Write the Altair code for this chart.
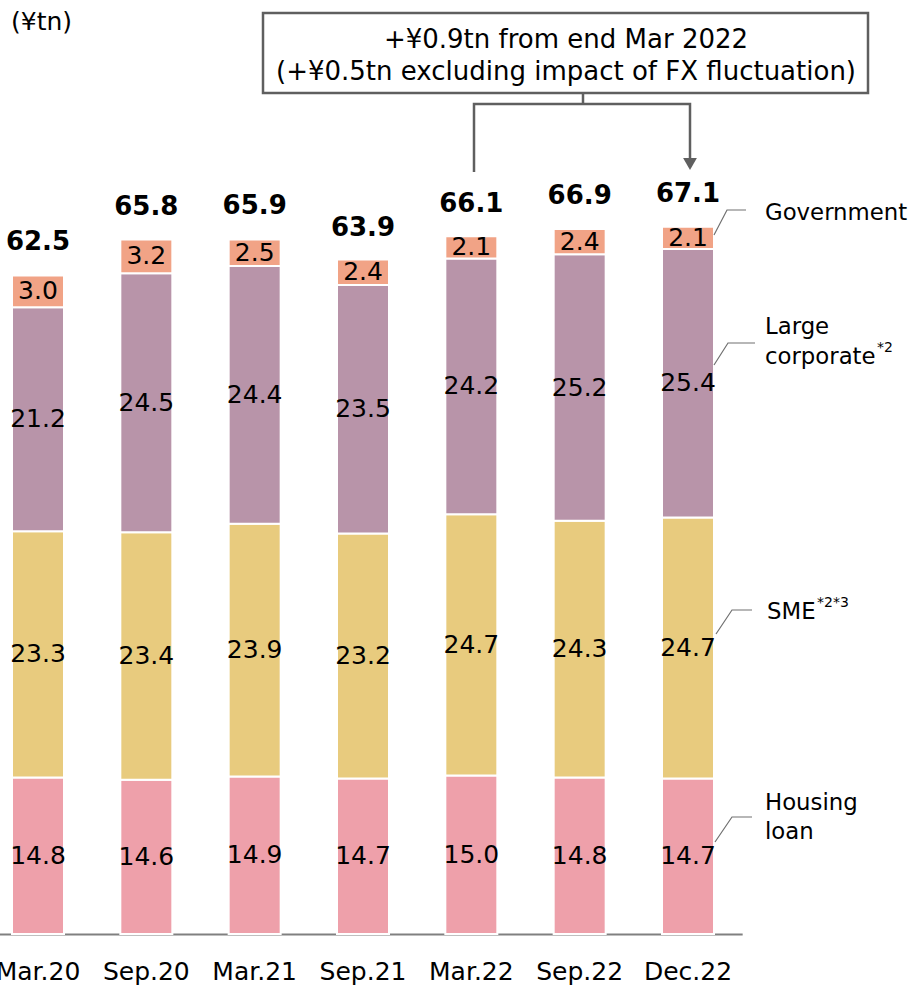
import altair as alt
import pandas as pd

# ---- data ----
periods = ["Mar.20", "Sep.20", "Mar.21", "Sep.21", "Mar.22", "Sep.22", "Dec.22"]
segments = ["Housing loan", "SME", "Large corporate", "Government"]
housing = [14.8, 14.6, 14.9, 14.7, 15.0, 14.8, 14.7]
sme = [23.3, 23.4, 23.9, 23.2, 24.7, 24.3, 24.7]
large = [21.2, 24.5, 24.4, 23.5, 24.2, 25.2, 25.4]
gov = [3.0, 3.2, 2.5, 2.4, 2.1, 2.4, 2.1]
totals = [62.5, 65.8, 65.9, 63.9, 66.1, 66.9, 67.1]
colors = ["#EEA0AA", "#E8CB7E", "#B894A9", "#F1A386"]

FONT = "DejaVu Sans"

rows = []
for i, p in enumerate(periods):
    base = 0.0
    for k, (seg, vals) in enumerate(zip(segments, [housing, sme, large, gov])):
        v = vals[i]
        rows.append(dict(period=p, segment=seg, order=k, value=v, y0=base,
                         y1=base + v, mid=base + v / 2, label=f"{v:.1f}"))
        base += v
df = pd.DataFrame(rows)
tot_df = pd.DataFrame({"period": periods, "total": totals,
                       "label": [f"{t:.1f}" for t in totals]})

xscale = alt.Scale(domain=periods, range=[-16.17, 742.17],
                   paddingInner=0.52, paddingOuter=0.26)
yscale = alt.Scale(domain=[0, 88.36], nice=False, zero=False)

X = alt.X("period:N", sort=periods, scale=xscale,
          axis=alt.Axis(title=None, labelFont=FONT, labelFontSize=25,
                        labelColor="black", domainColor="#808080",
                        domainWidth=2, ticks=False, tickSize=0,
                        labelPadding=25, labelAngle=0, grid=False))

bars = alt.Chart(df).mark_bar(stroke="white", strokeWidth=2).encode(
    x=X,
    y=alt.Y("y0:Q", scale=yscale, axis=None),
    y2="y1:Q",
    color=alt.Color("segment:N", scale=alt.Scale(domain=segments, range=colors),
                    legend=None),
)

seg_text = alt.Chart(df).mark_text(font=FONT, fontSize=25, color="black",
                                   baseline="middle").encode(
    x=alt.X("period:N", sort=periods, scale=xscale),
    y=alt.Y("mid:Q", scale=yscale),
    text="label:N",
)

tot_text = alt.Chart(tot_df).mark_text(font=FONT, fontSize=26, fontWeight="bold",
                                       color="black", baseline="alphabetic",
                                       dy=-23).encode(
    x=alt.X("period:N", sort=periods, scale=xscale),
    y=alt.Y("total:Q", scale=yscale),
    text="label:N",
)

# ---- annotations (pixel positioned) ----
unit_df = pd.DataFrame({"px": [11], "py": [22], "t": ["(¥tn)"]})
unit_text = alt.Chart(unit_df).mark_text(font=FONT, fontSize=25, align="left",
                                         baseline="middle", color="black").encode(
    x=alt.X("px:Q", scale=None), y=alt.Y("py:Q", scale=None), text="t:N")

box = alt.Chart(pd.DataFrame({"a": [0]})).mark_rect(
    fill="white", stroke="#5f5f5f", strokeWidth=2.5).encode(
    x=alt.value(263), x2=alt.value(868), y=alt.value(13), y2=alt.value(93))

box_df = pd.DataFrame({"px": [566, 566], "py": [40, 72],
                       "t": ["+¥0.9tn from end Mar 2022",
                             "(+¥0.5tn excluding impact of FX fluctuation)"]})
box_text = alt.Chart(box_df).mark_text(font=FONT, fontSize=26, align="center",
                                       baseline="middle", color="black").encode(
    x=alt.X("px:Q", scale=None), y=alt.Y("py:Q", scale=None), text="t:N")

conn_df = pd.DataFrame({
    "id": [0, 0, 0, 0, 1, 1],
    "o": [0, 1, 2, 3, 0, 1],
    "px": [474, 474, 690, 690, 583, 583],
    "py": [172, 104, 104, 160, 93, 104],
})
connector = alt.Chart(conn_df).mark_line(color="#5f5f5f", strokeWidth=2.5,
                                         strokeJoin="miter").encode(
    x=alt.X("px:Q", scale=None), y=alt.Y("py:Q", scale=None),
    detail="id:N", order="o:Q")

arrow = alt.Chart(pd.DataFrame({"px": [690], "py": [164]})).mark_point(
    shape="triangle-down", filled=True, color="#5f5f5f", size=190, opacity=1).encode(
    x=alt.X("px:Q", scale=None), y=alt.Y("py:Q", scale=None))

lead_df = pd.DataFrame({
    "id": [0, 0, 0, 1, 1, 1, 2, 2, 2, 3, 3, 3],
    "o": [0, 1, 2] * 4,
    "px": [714, 727, 746, 714, 728, 755, 716, 732, 752, 715, 732, 752],
    "py": [235, 210, 210, 365, 343, 343, 634, 610, 610, 842, 817, 817],
})
leaders = alt.Chart(lead_df).mark_line(color="#707070", strokeWidth=1.2).encode(
    x=alt.X("px:Q", scale=None), y=alt.Y("py:Q", scale=None),
    detail="id:N", order="o:Q")

cat_df = pd.DataFrame({
    "px": [765, 765, 765, 767, 765, 765],
    "py": [213, 327, 357, 612, 803, 832],
    "t": ["Government", "Large", "corporate", "SME", "Housing", "loan"],
})
cat_text = alt.Chart(cat_df).mark_text(font=FONT, fontSize=22.8, align="left",
                                       baseline="middle", color="black").encode(
    x=alt.X("px:Q", scale=None), y=alt.Y("py:Q", scale=None), text="t:N")

sup_df = pd.DataFrame({"px": [877, 817], "py": [348, 603], "t": ["*2", "*2*3"]})
sup_text = alt.Chart(sup_df).mark_text(font=FONT, fontSize=14, align="left",
                                       baseline="middle", color="black").encode(
    x=alt.X("px:Q", scale=None), y=alt.Y("py:Q", scale=None), text="t:N")

chart = alt.layer(
    bars, seg_text, tot_text, unit_text, box, box_text, connector, arrow,
    leaders, cat_text, sup_text
).properties(
    width=909, height=934,
    autosize=alt.AutoSizeParams(type="none"),
    padding={"left": 0, "right": 0, "top": 0, "bottom": 55},
    background="white",
).configure_view(stroke=None)

chart.save("out.html", embed_options={"renderer": "svg", "actions": False})
